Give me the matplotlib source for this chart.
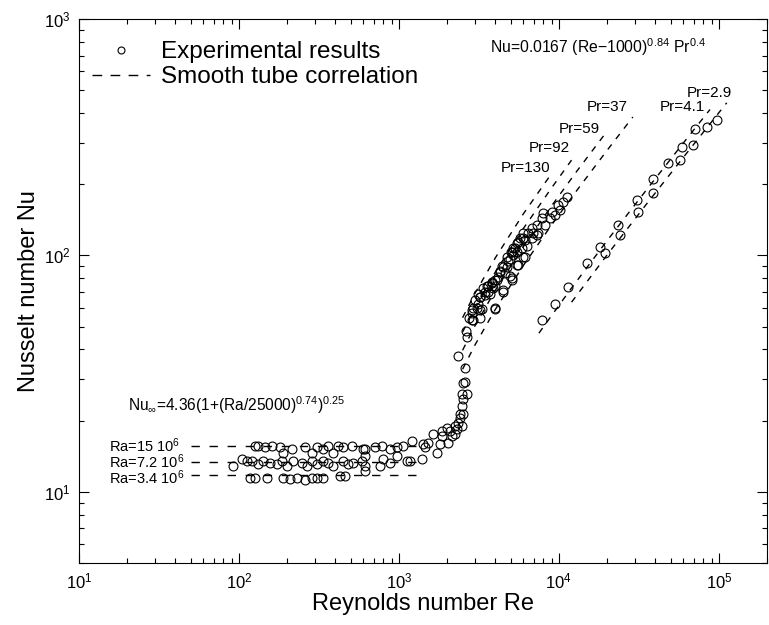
import numpy as np
import matplotlib
matplotlib.use('Agg')
import matplotlib.pyplot as plt
from matplotlib.lines import Line2D
from matplotlib.ticker import LogLocator, NullFormatter

plt.rcParams['font.family'] = ['Liberation Sans', 'DejaVu Sans']
plt.rcParams['mathtext.default'] = 'regular'

# experimental points, laminar band (three Rayleigh numbers)
re_lam1 = [126, 131, 145, 161, 180, 188, 214, 258, 286, 307, 335, 360, 387, 416, 447, 508, 596,
           613, 708, 783, 879, 972, 1059, 1206, 1413]
nu_lam1 = [15.7, 15.7, 15.4, 15.7, 15.5, 14.6, 15.2, 15.4, 14.6, 15.5, 15.2, 15.7, 14.6, 15.7, 15.4, 15.7, 15.2,
           15.2, 15.4, 15.7, 15.2, 15.4, 15.7, 16.4, 16.0]
re_lam2 = [91.7, 104, 112, 121, 131, 141, 156, 173, 186, 200, 218, 248, 266, 286, 307, 335, 360, 387, 447,
           480, 516, 587, 613, 794, 972, 1172, 1393]
nu_lam2 = [12.8, 13.8, 13.5, 13.5, 13.1, 13.5, 13.3, 13.1, 13.5, 12.9, 13.5, 13.3, 12.8, 13.5, 13.1, 13.5, 13.3, 12.9, 13.5,
           13.1, 13.3, 13.5, 14.2, 13.8, 14.2, 13.5, 13.8]
re_lam3 = [117, 126, 150, 188, 208, 230, 258, 286, 307, 335, 428, 460, 613, 761, 879, 1122, 613]
nu_lam3 = [11.4, 11.4, 11.4, 11.4, 11.3, 11.4, 11.2, 11.4, 11.4, 11.4, 11.7, 11.7, 12.9, 12.9, 13.3, 13.5, 12.3]

# transition and turbulent, high Pr fluids
re_trans = [1454, 1518, 1631, 1728, 1803, 1857, 1857, 1995, 2023, 2083, 2143, 2239, 2239, 2304, 2338, 2405,
            2477, 2512, 2405, 2477, 2512, 2661, 2477, 2512, 2585, 2585, 2338, 2661, 2640]
nu_trans = [15.4, 16.1, 17.6, 14.6, 16.0, 17.3, 18.1, 18.7, 16.1, 18.1, 17.3, 19.0, 17.6, 18.5, 19.6, 20.6,
            19.0, 21.4, 21.4, 23.1, 24.8, 26.0, 26.0, 29.0, 29.2, 33.5, 37.7, 45.0, 48.0]
re_turb = [2738, 2900, 2858, 3073, 3206, 2985, 3206, 3118, 3447, 3350, 3597, 3548, 3811, 3981, 3981, 3868,
           4159, 4276, 4406, 4467, 4597, 4732, 4797, 5082, 5012, 5157, 5309, 5464, 5546, 5957, 6132, 6310,
           6776, 6879, 7286, 11220, 10590, 9862, 10140, 9036, 9441, 8790, 7943, 7834, 8177, 7286, 7396,
           6776, 6397, 5957, 6132, 5702, 5464, 5875, 5157, 5082, 5464, 4732, 5957, 4943, 5546, 4467, 4276,
           4943, 4098, 5082, 3811, 3597, 3981, 4467, 3447, 3704, 3206, 3118, 2900, 3302, 2858, 3206, 3981, 2858]
nu_turb = [54.1, 53.1, 58.5, 60.2, 58.5, 64.5, 66.4, 69.0, 67.7, 72.5, 69.7, 74.6, 76.1, 78.4, 60.2, 72.5,
           80.7, 86.3, 89.8, 69.7, 83.9, 88.9, 95, 80.0, 103, 100, 108, 90.7, 113.5, 119, 98, 110,
           118, 124, 122, 176, 168, 163, 155, 152, 148, 143.5, 151, 143.5, 134, 134, 125,
           130, 125, 124, 116, 118, 112.5, 108, 108, 103, 103, 98, 98, 97, 90.7, 88.9, 84.7,
           82.2, 78.4, 78.4, 76.9, 74.6, 74.6, 71.1, 69.7, 69.0, 66.4, 62.6, 60.2, 59.6, 56.8, 54.6, 59.6, 53.1]

# turbulent, low Pr fluids
re_low = [7834, 9441, 11380, 14960, 18030, 19390, 23380, 24050, 30730, 31190, 38680, 38680, 47970,
          57020, 58750, 68790, 70790, 84140, 97170]
nu_low = [53.1, 62.6, 73.2, 92.5, 109, 102, 134, 122, 171, 152, 210, 183, 245,
          253, 287, 292, 342, 349, 373]

# laminar correlation lines
ra_labels = ['Ra=15 10$^6$', 'Ra=7.2 10$^6$', 'Ra=3.4 10$^6$']
ra_nu = [15.6, 13.4, 11.8]
ra_re = [50, 1400]

# smooth tube correlation lines
pr_labels = ['Pr=130', 'Pr=92', 'Pr=59', 'Pr=37', 'Pr=4.1', 'Pr=2.9']
pr_re = [[2500, 3000, 4000, 6000, 9000],
         [2500, 3000, 4000, 6000, 9000, 12000],
         [2500, 3000, 4000, 6000, 9000, 13000, 20000],
         [2500, 3000, 4000, 6000, 9000, 13000, 20000, 29000],
         [7500, 12000, 20000, 35000, 60000, 88000],
         [12000, 20000, 35000, 60000, 112000]]
pr_nu = [[54.5, 69.4, 97.5, 150, 222],
         [47.4, 60.4, 84.9, 130, 193, 253],
         [39.7, 50.6, 71.1, 109, 162, 228, 335],
         [33.0, 42.0, 59.0, 90.7, 134.5, 189, 278, 385],
         [46.9, 72.8, 115.4, 188, 299, 414],
         [63.4, 100.4, 163.7, 260, 442]]
# label anchor (right end of text)
pr_lab_re = [8790, 11720, 18030, 27000, 81770, 120500]
pr_lab_nu = [234, 284, 342, 424, 424, 485]

fig = plt.figure(figsize=(7.69, 6.25), dpi=100)
ax = fig.add_axes([0.1027, 0.0992, 0.8947, 0.8704])

mk = dict(ls='none', marker='o', mfc='none', mec='k', ms=6.4, mew=0.8)

for nu in ra_nu:
    ax.plot(ra_re, [nu, nu], color='k', lw=1.0, ls=(0, (6, 7)))
for r, n in zip(pr_re, pr_nu):
    ax.plot(r, n, color='k', lw=1.0, ls=(0, (4.5, 5)))

ax.plot(re_lam1, nu_lam1, **mk)
ax.plot(re_lam2, nu_lam2, **mk)
ax.plot(re_lam3, nu_lam3, **mk)
ax.plot(re_trans, nu_trans, **mk)
ax.plot(re_turb, nu_turb, **mk)
ax.plot(re_low, nu_low, **mk)

ax.set_xscale('log')
ax.set_yscale('log')
ax.set_xlim(10, 2e5)
ax.set_ylim(5, 1000)

ax.xaxis.set_minor_locator(LogLocator(base=10, subs=np.arange(2, 10), numticks=20))
ax.yaxis.set_minor_locator(LogLocator(base=10, subs=np.arange(2, 10), numticks=20))
ax.xaxis.set_minor_formatter(NullFormatter())
ax.yaxis.set_minor_formatter(NullFormatter())
ax.tick_params(which='both', direction='in', top=True, right=True, labelsize=12, width=0.8)
ax.tick_params(which='major', length=7, pad=6)
ax.tick_params(which='minor', length=3.5)
for s in ax.spines.values():
    s.set_linewidth(0.8)

ax.set_xlabel('Reynolds number Re', fontsize=17)
ax.set_ylabel('Nusselt number Nu', fontsize=17)
ax.xaxis.set_label_coords(0.5, -0.056)
ax.yaxis.set_label_coords(-0.056, 0.5)

# text annotations; Ra labels as one block beside the three lines
ax.text(15.3, ra_nu[1], '\n'.join(ra_labels), fontsize=10.5, va='center', ha='left',
        linespacing=0.86)
ax.text(0.071, 0.29, r'Nu$_{\infty}$=4.36(1+(Ra/25000)$^{0.74}$)$^{0.25}$',
        transform=ax.transAxes, fontsize=11.2, va='center', ha='left')
ax.text(0.597, 0.949, r'Nu=0.0167 (Re$-$1000)$^{0.84}$ Pr$^{0.4}$',
        transform=ax.transAxes, fontsize=11.3, va='center', ha='left')
for lab, x, y in zip(pr_labels, pr_lab_re, pr_lab_nu):
    ax.text(x, y, lab, fontsize=11, va='center', ha='right')

handles = [Line2D([], [], ls='none', marker='o', mfc='none', mec='k', ms=5, mew=0.8),
           Line2D([], [], color='k', lw=1.0, ls=(0, (7, 6)))]
ax.legend(handles, ['Experimental results', 'Smooth tube correlation'], loc='upper left',
          bbox_to_anchor=(0.019, 0.959), frameon=False, fontsize=17.5, handlelength=2.4,
          handletextpad=0.45, labelspacing=0.12, borderpad=0, borderaxespad=0)

fig.savefig('out.png', dpi=100)
